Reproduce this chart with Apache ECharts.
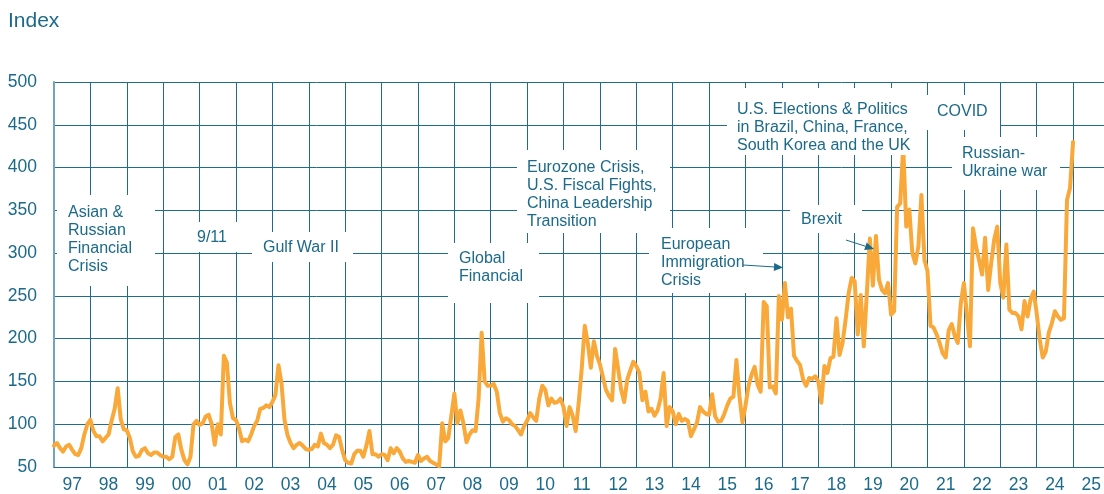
<!DOCTYPE html>
<html>
<head>
<meta charset="utf-8">
<script src="https://cdn.jsdelivr.net/npm/echarts@6/dist/echarts.min.js"></script>
<style>
  html, body { margin: 0; padding: 0; background: #fff; }
  #chart { width: 1104px; height: 494px; }
</style>
</head>
<body>
<div id="chart"></div>
<script>
// monthly index, Jan..Dec of each year
var v1997 = [75, 78, 72, 68, 74, 76, 70, 65, 64, 72, 88, 100]
var v1998 = [105, 92, 86, 86, 80, 84, 88, 104, 118, 142, 106, 94]
var v1999 = [93, 84, 68, 62, 63, 70, 72, 66, 64, 67, 67, 64]
var v2000 = [62, 62, 59, 62, 85, 88, 70, 58, 53, 62, 100, 104]
var v2001 = [99, 101, 109, 111, 100, 76, 100, 88, 180, 172, 125, 107]
var v2002 = [105, 95, 80, 82, 80, 88, 98, 104, 118, 119, 122, 120]
var v2003 = [126, 134, 169, 148, 105, 87, 78, 72, 76, 78, 75, 71]
var v2004 = [70, 71, 76, 74, 89, 78, 76, 72, 76, 87, 85, 70]
var v2005 = [58, 55, 54, 65, 69, 69, 62, 75, 92, 65, 65, 62]
var v2006 = [65, 64, 58, 72, 66, 72, 68, 60, 56, 57, 56, 55]
var v2007 = [64, 57, 60, 62, 57, 55, 53, 51, 101, 80, 84, 110]
var v2008 = [136, 101, 116, 101, 79, 88, 93, 92, 130, 207, 150, 145]
var v2009 = [145, 147, 138, 113, 103, 107, 105, 100, 98, 93, 88, 98]
var v2010 = [104, 113, 108, 104, 130, 145, 140, 122, 130, 125, 126, 130]
var v2011 = [120, 98, 120, 110, 92, 125, 165, 215, 195, 166, 197, 180]
var v2012 = [170, 155, 140, 133, 128, 188, 165, 140, 126, 152, 163, 173]
var v2013 = [168, 160, 128, 138, 115, 118, 110, 116, 130, 160, 98, 120]
var v2014 = [115, 100, 112, 104, 106, 104, 86, 94, 102, 120, 115, 112]
var v2015 = [111, 135, 109, 103, 104, 112, 122, 130, 132, 175, 133, 102]
var v2016 = [122, 145, 158, 167, 146, 138, 243, 238, 143, 144, 136, 250]
var v2017 = [222, 265, 225, 235, 180, 174, 169, 152, 145, 154, 153, 156]
var v2018 = [150, 125, 168, 160, 177, 179, 224, 181, 195, 222, 253, 271]
var v2019 = [267, 205, 251, 191, 253, 317, 262, 320, 269, 257, 253, 265]
var v2020 = [228, 232, 354, 358, 425, 331, 351, 300, 288, 308, 368, 292]
var v2021 = [279, 215, 213, 205, 195, 183, 178, 210, 217, 203, 195, 242]
var v2022 = [265, 228, 191, 329, 308, 292, 275, 318, 257, 288, 316, 331]
var v2023 = [265, 248, 310, 234, 230, 230, 226, 211, 244, 226, 246, 255]
var v2024 = [230, 199, 178, 185, 207, 218, 232, 226, 222, 224, 362, 376]
var v2025 = [430]

var yearBlocks = [v1997, v1998, v1999, v2000, v2001, v2002, v2003, v2004, v2005, v2006,
  v2007, v2008, v2009, v2010, v2011, v2012, v2013, v2014, v2015, v2016,
  v2017, v2018, v2019, v2020, v2021, v2022, v2023, v2024, v2025]
var firstYear = 1997
var yearLabels = ['97', '98', '99', '00', '01', '02', '03', '04', '05', '06', '07', '08', '09', '10',
  '11', '12', '13', '14', '15', '16', '17', '18', '19', '20', '21', '22', '23', '24', '25']
var yMin = 50
var yMax = 500
var yStep = 50

var TEAL = '#1b6a8a'
var GRIDC = '#206c8a'
var ORANGE = '#f9a83a'
var FONT = '"Liberation Sans", Arial, sans-serif'

var seriesData = []
yearBlocks.forEach(function (block, yi) {
  block.forEach(function (val, m) {
    seriesData.push([firstYear + yi + m / 12, val])
  })
})
// labels sit in the middle of each year band
var labelPos = yearLabels.map(function (l, i) { return firstYear + i + 0.5 })

// annotation boxes (pixel layout)
var notes = [
  { box: [57, 195, 98, 91], tx: 68, ty: 203, text: 'Asian &\nRussian\nFinancial\nCrisis' },
  { box: [185, 222, 65, 30], tx: 197, ty: 228, text: '9/11' },
  { box: [252, 232, 101, 30], tx: 263, ty: 238, text: 'Gulf War II' },
  { box: [448, 243, 91, 60], tx: 459, ty: 249, text: 'Global\nFinancial' },
  { box: [517, 150, 153, 83], tx: 527, ty: 158, text: 'Eurozone Crisis,\nU.S. Fiscal Fights,\nChina Leadership\nTransition' },
  { box: [649, 228, 114, 65], tx: 661, ty: 235, text: 'European\nImmigration\nCrisis' },
  { box: [727, 88, 198, 67], tx: 737, ty: 100, text: 'U.S. Elections & Politics\nin Brazil, China, France,\nSouth Korea and the UK' },
  { box: [925, 95, 75, 35], tx: 937, ty: 102, text: 'COVID' },
  { box: [952, 137, 108, 53], tx: 962, ty: 144, text: 'Russian-\nUkraine war' },
  { box: [790, 205, 72, 28], tx: 801, ty: 210, text: 'Brexit' }
]
var arrows = [
  [743, 265, 783, 267.5],
  [846, 240, 874, 249]
]

function arrowEls (a) {
  var x1 = a[0], y1 = a[1], x2 = a[2], y2 = a[3]
  var ang = Math.atan2(y2 - y1, x2 - x1)
  var len = 9, wid = 4
  var bx = x2 - len * Math.cos(ang), by = y2 - len * Math.sin(ang)
  var px = -Math.sin(ang) * wid, py = Math.cos(ang) * wid
  return [
    { type: 'line', z: 20, shape: { x1: x1, y1: y1, x2: bx, y2: by }, style: { stroke: TEAL, lineWidth: 1 } },
    { type: 'polygon', z: 20, shape: { points: [[x2, y2], [bx + px, by + py], [bx - px, by - py]] }, style: { fill: TEAL } }
  ]
}

var graphics = []
notes.forEach(function (n) {
  graphics.push({ type: 'rect', z: 10, shape: { x: n.box[0], y: n.box[1], width: n.box[2], height: n.box[3] }, style: { fill: '#fff' } })
  graphics.push({
    type: 'text', z: 11, x: n.tx, y: n.ty,
    style: { text: n.text, fill: TEAL, font: '16px ' + FONT, lineHeight: 18.3, textAlign: 'left', textVerticalAlign: 'top' }
  })
})
arrows.forEach(function (a) { graphics = graphics.concat(arrowEls(a)) })
graphics.push({
  type: 'text', z: 11, x: 8, y: 11,
  style: { text: 'Index', fill: TEAL, font: '21px ' + FONT, textAlign: 'left', textVerticalAlign: 'top' }
})

var myChart = echarts.init(document.getElementById('chart'), null, { renderer: 'canvas' })
var option = {
  animation: false,
  backgroundColor: '#fff',
  grid: { left: 54, right: 0, top: 82, bottom: 26 },
  xAxis: {
    type: 'value',
    min: firstYear,
    max: 2025.85,
    interval: 1,
    axisLine: { show: true, lineStyle: { color: GRIDC, width: 1 } },
    axisTick: { show: false },
    splitLine: { show: true, lineStyle: { color: GRIDC, width: 1 } },
    axisLabel: {
      customValues: labelPos,
      color: TEAL,
      fontFamily: FONT,
      fontSize: 17.5,
      margin: 9,
      formatter: function (v) { return yearLabels[Math.round(v - 0.5 - firstYear)] }
    }
  },
  yAxis: {
    type: 'value',
    min: yMin,
    max: yMax,
    interval: yStep,
    axisLine: { show: true, lineStyle: { color: '#6fa6bb', width: 2 } },
    axisTick: { show: false },
    splitLine: { show: true, lineStyle: { color: GRIDC, width: 1 } },
    axisLabel: { color: TEAL, fontFamily: FONT, fontSize: 17.5, margin: 17 }
  },
  series: [{
    type: 'line',
    data: seriesData,
    symbol: 'none',
    lineStyle: { color: ORANGE, width: 4, cap: 'round', join: 'round' },
    z: 5
  }],
  graphic: { elements: graphics }
}
myChart.setOption(option)
</script>
</body>
</html>
